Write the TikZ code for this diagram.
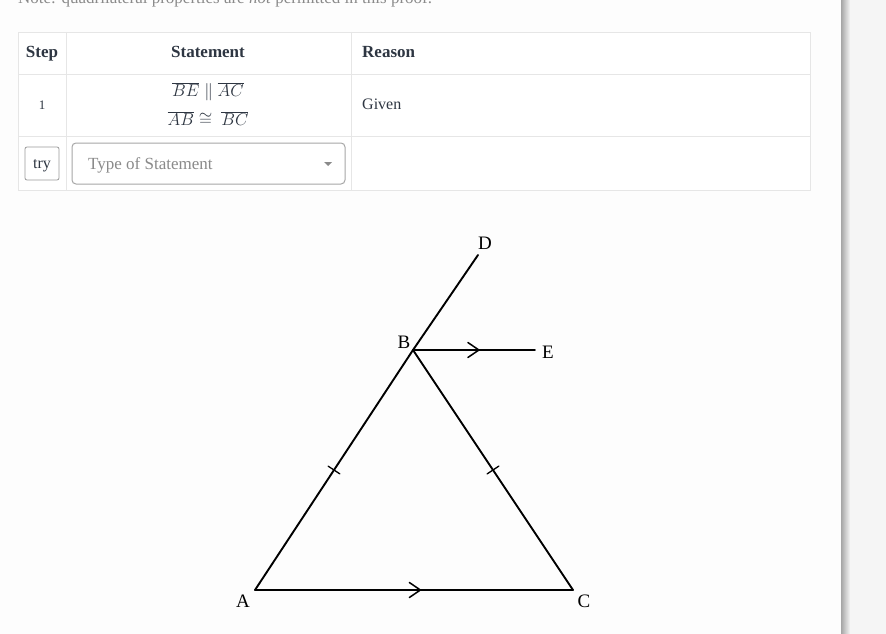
\documentclass[tikz,border=0pt]{standalone}
\usepackage{fontspec}
\setmainfont{Liberation Serif}
\usetikzlibrary{decorations.markings}
\definecolor{inkdark}{HTML}{2E3642}
\definecolor{inkgray}{HTML}{8A8A8A}
\definecolor{cellline}{HTML}{E6E6E6}
\definecolor{pagebg}{HTML}{FDFDFD}
\tikzset{
  cell/.style={draw=cellline, line width=0.8pt},
  head/.style={anchor=base, inner sep=0pt, font=\fontsize{17}{20}\selectfont\bfseries, text=inkdark},
  body/.style={anchor=base, inner sep=0pt, font=\fontsize{16}{19}\selectfont, text=inkdark},
  mathline/.style={anchor=base, inner sep=0pt, font=\fontsize{17}{20}\selectfont, text=inkdark},
  pointlabel/.style={anchor=base, inner sep=0pt, font=\fontsize{19}{22}\selectfont, text=black},
  side/.style={line width=1.9pt, line cap=round},
  tick/.style={postaction={decorate, decoration={markings,
      mark=at position 0.5 with {\draw[line width=1.3pt] (0,-7) -- (0,7);}}}},
  chevron/.style={postaction={decorate, decoration={markings,
      mark=at position #1 with {\draw[line width=1.5pt] (-11,-7.5) -- (0,0) -- (-11,7.5);}}}}
}
\begin{document}
\begin{tikzpicture}[x=1pt, y=-1pt]
    \useasboundingbox (0,0) rectangle (886,634);
    % page and shadow
    \fill[pagebg] (0,0) rectangle (842,634);
    \fill[gray!8] (842,0) rectangle (886,634);
    \shade[left color=gray!70, right color=gray!8] (841,0) rectangle (850,634);
    % note line, cut at the top
    \node[anchor=base west, inner sep=0pt, text=inkgray, font=\fontsize{17}{20}\selectfont] (note) at (18,4)
        {Note: quadrilateral properties are \textit{not} permitted in this proof.};
    % table
    \fill[white] (18,32) rectangle (810,190);
    \draw[cell] (18,32) rectangle (810,190);
    \draw[cell] (18,74) -- (810,74);
    \draw[cell] (18,136) -- (810,136);
    \draw[cell] (66,32) -- (66,190);
    \draw[cell] (351,32) -- (351,190);
    \node[head] (steph) at (42,58) {Step};
    \node[head] (stath) at (208,58) {Statement};
    \node[head, anchor=base west] (reash) at (362,58) {Reason};
    \node[body, font=\fontsize{13}{15}\selectfont] (stepone) at (42,109) {1};
    \node[mathline] (parl) at (208,96) {$\overline{BE}\parallel\overline{AC}$};
    \node[mathline] (cong) at (208,125) {$\overline{AB}\cong\ \overline{BC}$};
    \node[body, anchor=base west] (given) at (362,110) {Given};
    % second row
    \draw[draw=gray!80, rounded corners=2pt, line width=0.8pt] (25,147) rectangle (59,180);
    \node[body] (try) at (42,168) {try};
    \draw[draw=gray!70, rounded corners=4pt, line width=1pt] (72,143) rectangle (345,184);
    \node[body, anchor=base west, text=inkgray, font=\fontsize{17}{20}\selectfont] (type) at (88,169) {Type of Statement};
    \fill[inkgray] (324,162) -- (332,162) -- (328,166) -- cycle;
    % figure
    \coordinate (A) at (255,590);
    \coordinate (B) at (413,350);
    \coordinate (C) at (573,590);
    \coordinate (D) at (478,255);
    \coordinate (E) at (535,350);
    \draw[side, tick] (A) -- (B);
    \draw[side, tick] (B) -- (C);
    \draw[side, chevron=0.52] (A) -- (C);
    \draw[side] (B) -- (D);
    \draw[side, chevron=0.54] (B) -- (E);
    \node[pointlabel] (lA) at (243,607) {A};
    \node[pointlabel] (lB) at (404,348) {B};
    \node[pointlabel] (lC) at (584,607) {C};
    \node[pointlabel] (lD) at (485,249) {D};
    \node[pointlabel] (lE) at (548,358) {E};
\end{tikzpicture}
\end{document}
